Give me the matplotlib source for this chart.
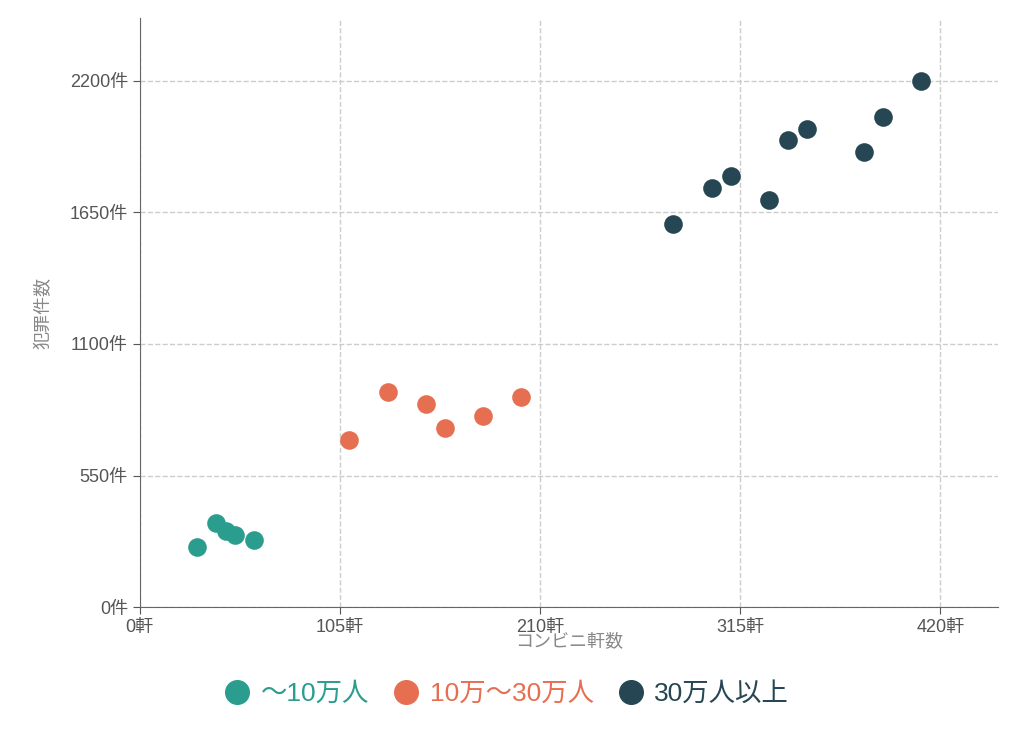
import matplotlib.pyplot as plt
from matplotlib.lines import Line2D

plt.rcParams['font.family'] = ['Liberation Sans', 'Noto Sans CJK JP', 'DejaVu Sans']

groups = ['〜10万人', '10万〜30万人', '30万人以上']
colors = ['#2a9d8f', '#e76f51', '#264653']
stores = [
    [30, 40, 45, 50, 60],
    [110, 130, 150, 160, 180, 200],
    [280, 300, 310, 330, 340, 350, 380, 390, 410],
]
crimes = [
    [250, 350, 320, 300, 280],
    [700, 900, 850, 750, 800, 880],
    [1600, 1750, 1800, 1700, 1950, 2000, 1900, 2050, 2200],
]
xticks = [0, 105, 210, 315, 420]
yticks = [0, 550, 1100, 1650, 2200]

fig = plt.figure(figsize=(10.2, 7.36), dpi=100)
ax = fig.add_axes([0.137, 0.175, 0.841, 0.8])

for g, c, xs, ys in zip(groups, colors, stores, crimes):
    ax.scatter(xs, ys, s=180, color=c, zorder=3, linewidths=0)

ax.set_xlim(0, 450)
ax.set_ylim(0, 2460)
ax.set_xticks(xticks)
ax.set_xticklabels([f'{v}軒' for v in xticks])
ax.set_yticks(yticks)
ax.set_yticklabels([f'{v}件' for v in yticks])
ax.grid(True, linestyle='--', color='#cccccc', linewidth=1)
ax.tick_params(colors='#555555', labelsize=13, length=5)
for s in ['top', 'right']:
    ax.spines[s].set_visible(False)
for s in ['left', 'bottom']:
    ax.spines[s].set_color('#666666')
ax.set_xlabel('コンビニ軒数', color='#888888', fontsize=13, labelpad=-2)
ax.set_ylabel('犯罪件数', color='#888888', fontsize=13, labelpad=12)

handles = [Line2D([], [], marker='o', linestyle='', markersize=17, color=c) for c in colors]
leg = fig.legend(handles, groups, loc='center', bbox_to_anchor=(0.49, 0.057), ncol=3,
                 frameon=False, fontsize=19, handletextpad=-0.1, columnspacing=0.4)
for t, c in zip(leg.get_texts(), colors):
    t.set_color(c)

fig.savefig('out.png', dpi=100)
